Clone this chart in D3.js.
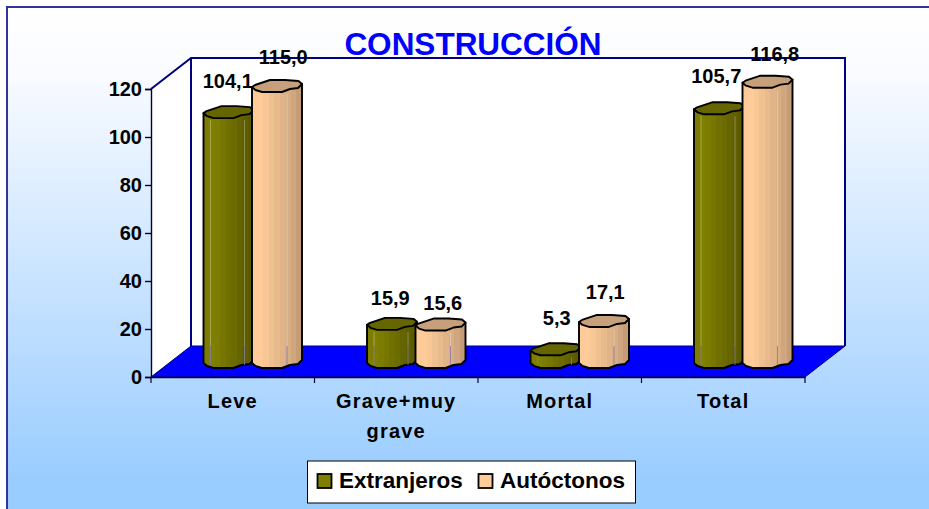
<!DOCTYPE html>
<html>
<head>
<meta charset="utf-8">
<script src="https://cdn.jsdelivr.net/npm/d3@7"></script>
<style>
html,body{margin:0;padding:0;background:#fff;overflow:hidden}
svg{display:block}
text{font-family:"Liberation Sans",Arial,sans-serif;font-weight:bold;fill:#000}
</style>
</head>
<body>
<svg id="c" width="929" height="509"></svg>
<script>
const titleText = "CONSTRUCCIÓN";
const categories = ["Leve", "Grave+muy grave", "Mortal", "Total"];
const categoryLines = [["Leve"], ["Grave+muy", "grave"], ["Mortal"], ["Total"]];
const seriesNames = ["Extranjeros", "Autóctonos"];
const extranjeros = [104.1, 15.9, 5.3, 105.7];
const autoctonos = [115.0, 15.6, 17.1, 116.8];
const valueLabelsE = ["104,1", "15,9", "5,3", "105,7"];
const valueLabelsA = ["115,0", "15,6", "17,1", "116,8"];
const yTicks = [0, 20, 40, 60, 80, 100, 120];

const svg = d3.select("#c");
const defs = svg.append("defs");

// plot geometry
const plot = {left: 151, right: 805, top: 89, bottom: 377};
const depth = {dx: 40, dy: -31};
const baseLift = 9;

const x = d3.scaleBand().domain(categories).range([plot.left, plot.right]);
const inner = d3.scaleBand().domain(seriesNames).range([52.5, 52.5 + 97]);
const y = d3.scaleLinear().domain([0, 120]).range([plot.bottom, plot.top]);

// background
const bg = defs.append("linearGradient").attr("id", "bg").attr("x1", 0).attr("y1", 0).attr("x2", 0).attr("y2", 1);
bg.append("stop").attr("offset", 0).attr("stop-color", "#ffffff");
bg.append("stop").attr("offset", 0.12).attr("stop-color", "#fbfcff");
bg.append("stop").attr("offset", 0.95).attr("stop-color", "#99ccff");
bg.append("stop").attr("offset", 1).attr("stop-color", "#99ccff");
svg.append("rect").attr("x", 6).attr("y", 6).attr("width", 923).attr("height", 503).attr("fill", "url(#bg)");
svg.append("path").attr("d", "M7,509V7H929").attr("fill", "none").attr("stroke", "#333399").attr("stroke-width", 2);

// walls and floor
const navy = "#000080";
const p = (a, b) => a + "," + b;
const g3 = svg.append("g");
g3.append("polygon")
  .attr("points", [p(plot.left, plot.top), p(plot.left + depth.dx, plot.top + depth.dy), p(plot.right + depth.dx, plot.top + depth.dy),
    p(plot.right + depth.dx, plot.bottom + depth.dy), p(plot.left + depth.dx, plot.bottom + depth.dy), p(plot.left, plot.bottom)].join(" "))
  .attr("fill", "#fff");
g3.append("polyline")
  .attr("points", [p(plot.left, plot.top), p(plot.left + depth.dx, plot.top + depth.dy), p(plot.right + depth.dx, plot.top + depth.dy),
    p(plot.right + depth.dx, plot.bottom + depth.dy)].join(" "))
  .attr("fill", "none").attr("stroke", navy).attr("stroke-width", 2);
g3.append("line").attr("x1", plot.left + depth.dx).attr("x2", plot.left + depth.dx)
  .attr("y1", plot.top + depth.dy).attr("y2", plot.bottom + depth.dy).attr("stroke", navy).attr("stroke-width", 2);
g3.append("polygon")
  .attr("points", [p(plot.left, plot.bottom), p(plot.right, plot.bottom), p(plot.right + depth.dx, plot.bottom + depth.dy), p(plot.left + depth.dx, plot.bottom + depth.dy)].join(" "))
  .attr("fill", "#0000ff").attr("stroke", navy).attr("stroke-width", 1);

// axes
const yAxis = d3.axisLeft(y).tickValues(yTicks).tickSize(6).tickPadding(3);
const xAxis = d3.axisBottom(x).tickValues([]).tickSizeOuter(0);
const gy = svg.append("g").attr("transform", "translate(" + plot.left + ",0)").call(yAxis);
gy.selectAll("path,line").attr("stroke", "#000033").attr("stroke-width", 1.4);
gy.selectAll("text").attr("font-size", 20).attr("fill", "#000").attr("font-family", '"Liberation Sans",Arial,sans-serif').attr("font-weight", "bold");
const gx = svg.append("g").attr("transform", "translate(0," + plot.bottom + ")").call(xAxis);
gx.select("path").attr("stroke", "#000033").attr("stroke-width", 1.4);
const xTickPos = categories.map(c => x(c)).concat([plot.right]);
gx.selectAll("line.sep").data(xTickPos).enter().append("line").attr("class", "sep")
  .attr("x1", d => d).attr("x2", d => d).attr("y1", 0).attr("y2", 6).attr("stroke", "#000033").attr("stroke-width", 1.2);

// gradients
function stepGrad(id, cols) {
  const g = defs.append("linearGradient").attr("id", id).attr("x1", 0).attr("y1", 0).attr("x2", 1).attr("y2", 0);
  cols.forEach((c, i) => {
    g.append("stop").attr("offset", i / cols.length).attr("stop-color", c);
    g.append("stop").attr("offset", (i + 1) / cols.length).attr("stop-color", c);
  });
}
stepGrad("gE", ["#7c7c00", "#808000", "#7c7c00", "#767600", "#707000", "#6b6b00", "#656500", "#5f5f00", "#5a5a00"]);
stepGrad("gA", ["#fdcb98", "#ffcc99", "#f8c796", "#f0c190", "#e8bb8c", "#e0b488", "#d8ae84", "#cfa680", "#c49c76"]);

const bw = inner.bandwidth();
const frontEdge = [[0, -5], [.07, -2], [.2, 0], [.6, 0], [.76, -3], [.92, -4], [1, -8]];
const backEdge = [[.93, -11], [.66, -12], [.36, -12], [.06, -7]];
function cylinder(x0, val) {
  const yb = y(0) - baseLift, yt = y(val) - baseLift, w = bw + 1.5;
  const front = (yy) => frontEdge.map(q => [x0 + q[0] * w, yy + q[1]]);
  return {
    body: [[x0, yt - 5]].concat(front(yb)).concat([[x0 + w, yt - 8]]),
    top: front(yt).concat(backEdge.map(q => [x0 + q[0] * w, yt + q[1]])),
    x0, w, yb, yt
  };
}
const line = d3.line().curve(d3.curveLinearClosed);
const floorY = plot.bottom + depth.dy;
const highlightAt = [
  {f: .14, s: "E"}, {f: .82, s: "E"}, {f: .7, s: "A"}
];

function drawBar(cat, series, val, gradId, topFill) {
  const x0 = x(cat) + inner(series);
  const c = cylinder(x0, val);
  const g = svg.append("g");
  g.append("path").attr("d", line(c.body)).attr("fill", "url(#" + gradId + ")").attr("stroke", "#000").attr("stroke-width", 1.9).attr("stroke-linejoin", "round");
  highlightAt.filter(h => h.s === gradId[1]).forEach(h => {
    const lx = x0 + h.f * c.w;
    if (c.yt + 1 < floorY) {
      g.append("line").attr("x1", lx).attr("x2", lx).attr("y1", c.yt + 2).attr("y2", floorY)
        .attr("stroke", "#fff").attr("stroke-opacity", .3).attr("stroke-width", 1);
    }
    g.append("line").attr("x1", lx).attr("x2", lx).attr("y1", Math.max(floorY, c.yt + 2)).attr("y2", c.yb - 3)
      .attr("stroke", "#8a7ab0").attr("stroke-opacity", .75).attr("stroke-width", 1);
  });
  g.append("path").attr("d", line(c.top)).attr("fill", topFill).attr("stroke", "#000").attr("stroke-width", 1.9).attr("stroke-linejoin", "round");
}
categories.forEach((c, i) => {
  drawBar(c, seriesNames[0], extranjeros[i], "gE", "#666600");
  drawBar(c, seriesNames[1], autoctonos[i], "gA", "#c6a07a");
});

// value labels: nudge is per-label placement, relative to the bar top
const nudgeE = [[0, -30], [-1, -25], [2, -30], [-2, -31]];
const nudgeA = [[7, -28], [3, -21], [2, -28], [8, -27]];
function valueLabel(cat, series, val, txt, n) {
  svg.append("text").attr("x", x(cat) + inner(series) + bw / 2 + n[0]).attr("y", y(val) - baseLift + n[1])
    .attr("text-anchor", "middle").attr("font-size", 20).text(txt);
}
categories.forEach((c, i) => {
  valueLabel(c, seriesNames[0], extranjeros[i], valueLabelsE[i], nudgeE[i]);
  valueLabel(c, seriesNames[1], autoctonos[i], valueLabelsA[i], nudgeA[i]);
});

// category labels
categories.forEach((c, i) => {
  categoryLines[i].forEach((t, j) => {
    svg.append("text").attr("x", x(c) + x.bandwidth() / 2)
      .attr("y", 408 + j * 30).attr("text-anchor", "middle").attr("font-size", 20).attr("letter-spacing", 1.2).text(t);
  });
});

// title
svg.append("text").attr("x", 473).attr("y", 55).attr("text-anchor", "middle").attr("font-size", 31.5)
  .style("fill", "#0000ff").text(titleText);

// legend
svg.append("rect").attr("x", 307.5).attr("y", 461).attr("width", 328).attr("height", 42).attr("fill", "#fff").attr("stroke", "#000").attr("stroke-width", 1);
const legendX = [317.5, 478.5];
seriesNames.forEach((s, i) => {
  svg.append("rect").attr("x", legendX[i]).attr("y", 474).attr("width", 14).attr("height", 14)
    .attr("fill", i ? "#ffcc99" : "#808000").attr("stroke", "#000").attr("stroke-width", 1.8);
  svg.append("text").attr("x", legendX[i] + 21.5).attr("y", 488).attr("font-size", 22.5).text(s);
});
</script>
</body>
</html>
